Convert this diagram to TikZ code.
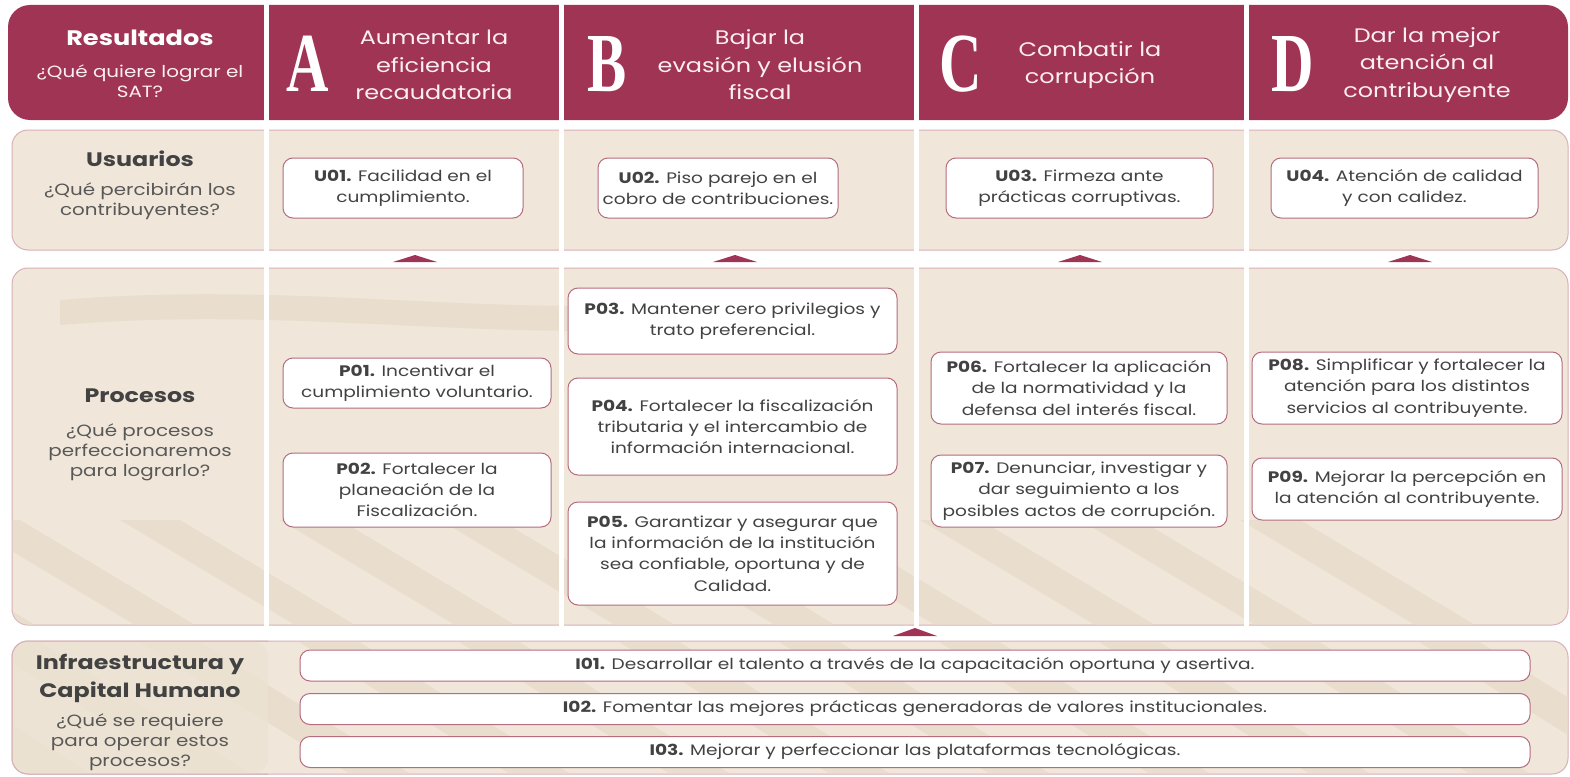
\documentclass[tikz,border=0pt]{standalone}
\usepackage{fontspec}
\setmainfont{Poppins}[FakeStretch=1.22]
\newfontfamily\letterfont{Liberation Serif}
\definecolor{guinda}{RGB}{160,52,84}
\definecolor{beige}{RGB}{240,231,218}
\definecolor{beigeD}{RGB}{236,226,211}
\definecolor{stripe}{RGB}{231,219,201}
\definecolor{rowline}{RGB}{216,176,182}
\definecolor{boxline}{RGB}{180,108,126}
\definecolor{txt}{RGB}{66,66,66}
\definecolor{subtxt}{RGB}{88,88,88}
\definecolor{hdtxt}{RGB}{252,238,242}
\tikzset{
  rowbox/.style={draw=rowline, fill=beige, line width=1pt, rounded corners=16pt},
  sepline/.style={white, line width=5pt},
  marker/.style={fill=guinda},
  band/.style={fill=stripe, opacity=0.75},
  itembox/.style={draw=boxline, fill=white, line width=1pt, rounded corners=10pt,
    inner sep=0pt, align=center, text=txt,
    font=\fontsize{15.2}{21.3}\selectfont},
  headtext/.style={align=center, text=hdtxt, font=\fontsize{19.6}{27.5}\selectfont},
  bigletter/.style={text=white, inner sep=0pt, font=\letterfont\bfseries\fontsize{84}{84}\selectfont},
  rowtitle/.style={align=center, text=txt, font=\bfseries\fontsize{19.5}{28}\selectfont},
  rowsub/.style={align=center, text=subtxt, font=\fontsize{16.3}{20}\selectfont},
}
\begin{document}
\begin{tikzpicture}[x=1pt,y=-1pt]
\useasboundingbox (0,0) rectangle (1570,776);
\fill[white] (0,0) rectangle (1570,776);
% header band
\fill[guinda, rounded corners=22pt] (8,5) rectangle (1568,120);
% row panels
\draw[rowbox] (12,130) rectangle (1568,250);
\draw[rowbox] (12,268) rectangle (1568,625);
\draw[rowbox] (12,641) rectangle (1568,774);
% faint watermark bands
\begin{scope}
  \clip[rounded corners=15pt] (12.5,268.5) rectangle (1567.5,624.5);
  \foreach \bx in {-200,-40,120,280,440,600,760,920,1080,1240}
    \fill[band] (\bx,520) -- (\bx+60,520) -- (\bx+260,640) -- (\bx+200,640) -- cycle;
  \fill[band] (60,300) .. controls (300,280) and (500,320) .. (700,300) -- (700,325) .. controls (500,345) and (300,305) .. (60,325) -- cycle;
\end{scope}
\begin{scope}
  \clip[rounded corners=15pt] (12.5,641.5) rectangle (1567.5,773.5);
  \foreach \bx in {-200,-40,120,280,440,600,760,920,1080,1240,1400}
    \fill[band] (\bx,630) -- (\bx+60,630) -- (\bx+300,780) -- (\bx+240,780) -- cycle;
\end{scope}
\fill[beigeD, opacity=0.8, rounded corners=15pt] (12.5,641.5) -- (12.5,773.5) -- (268,773.5) -- (268,641.5) -- cycle;
\draw[rowline, line width=1pt, rounded corners=16pt] (268,641) -- (12,641) -- (12,774) -- (268,774);
% column separators
\foreach \sx in {266,561,916,1246} \draw[sepline] (\sx,0) -- (\sx,625.5);
% markers
\foreach \mx in {415,735,1080,1410}
  \fill[marker] (\mx-22,262) -- (\mx+22,262) -- (\mx,255) -- cycle;
\fill[marker] (893,636) -- (937,636) -- (915,628) -- cycle;

% header
\node[rowtitle, text=white, font=\bfseries\fontsize{21}{28}\selectfont] (hres) at (140,38) {Resultados};
\node[rowsub, text=hdtxt] (hsub) at (140,81) {¿Qué quiere lograr el\\SAT?};
\node[bigletter] (la) at (308,64) {\scalebox{0.7}[1]{A}};
\node[headtext] (ha) at (434,65) {Aumentar la\\eficiencia\\recaudatoria};
\node[bigletter] (lb) at (607,64) {\scalebox{0.7}[1]{B}};
\node[headtext] (hb) at (760,65) {Bajar la\\evasión y elusión\\fiscal};
\node[bigletter] (lc) at (961,64) {\scalebox{0.7}[1]{C}};
\node[headtext] (hc) at (1090,65) {Combatir la\\corrupción};
\node[bigletter] (ld) at (1293,64) {\scalebox{0.7}[1]{D}};
\node[headtext] (hd) at (1427,65) {Dar la mejor\\atención al\\contribuyente};

% row labels
\node[rowtitle] (tu) at (140,159) {Usuarios};
\node[rowsub] (su) at (140,201) {¿Qué percibirán los\\contribuyentes?};
\node[rowtitle] (tp) at (140,396) {Procesos};
\node[rowsub] (sp) at (140,452) {¿Qué procesos\\perfeccionaremos\\para lograrlo?};
\node[rowtitle] (ti) at (140,678) {Infraestructura y\\Capital Humano};
\node[rowsub] (si) at (140,742) {¿Qué se requiere\\para operar estos\\procesos?};

% users
\node[itembox, minimum width=240pt, minimum height=60pt] (u1) at (403,188) {\textbf{U01.} Facilidad en el\\cumplimiento.};
\node[itembox, minimum width=240pt, minimum height=60pt] (u2) at (718,188) {\textbf{U02.} Piso parejo en el\\cobro de contribuciones.};
\node[itembox, minimum width=267pt, minimum height=60pt] (u3) at (1079.5,188) {\textbf{U03.} Firmeza ante\\prácticas corruptivas.};
\node[itembox, minimum width=267pt, minimum height=60pt] (u4) at (1404.5,188) {\textbf{U04.} Atención de calidad\\y con calidez.};

% processes
\node[itembox, minimum width=268pt, minimum height=50pt] (p1) at (417,383) {\textbf{P01.} Incentivar el\\cumplimiento voluntario.};
\node[itembox, minimum width=268pt, minimum height=74pt] (p2) at (417,490) {\textbf{P02.} Fortalecer la\\planeación de la\\Fiscalización.};
\node[itembox, minimum width=329pt, minimum height=66pt] (p3) at (732.5,321) {\textbf{P03.} Mantener cero privilegios y\\trato preferencial.};
\node[itembox, minimum width=329pt, minimum height=97pt] (p4) at (732.5,426.5) {\textbf{P04.} Fortalecer la fiscalización\\tributaria y el intercambio de\\información internacional.};
\node[itembox, minimum width=329pt, minimum height=103pt] (p5) at (732.5,553.5) {\textbf{P05.} Garantizar y asegurar que\\la información de la institución\\sea confiable, oportuna y de\\Calidad.};
\node[itembox, minimum width=296pt, minimum height=72pt] (p6) at (1079,388) {\textbf{P06.} Fortalecer la aplicación\\de la normatividad y la\\defensa del interés fiscal.};
\node[itembox, minimum width=296pt, minimum height=72pt] (p7) at (1079,491) {\textbf{P07.} Denunciar, investigar y\\dar seguimiento a los\\posibles actos de corrupción.};
\node[itembox, minimum width=310pt, minimum height=72pt] (p8) at (1407,388) {\textbf{P08.} Simplificar y fortalecer la\\atención para los distintos\\servicios al contribuyente.};
\node[itembox, minimum width=310pt, minimum height=62pt] (p9) at (1407,489) {\textbf{P09.} Mejorar la percepción en\\la atención al contribuyente.};

% infrastructure
\node[itembox, minimum width=1230pt, minimum height=31pt] (i1) at (915,665.5) {\textbf{I01.} Desarrollar el talento a través de la capacitación oportuna y asertiva.};
\node[itembox, minimum width=1230pt, minimum height=31pt] (i2) at (915,709) {\textbf{I02.} Fomentar las mejores prácticas generadoras de valores institucionales.};
\node[itembox, minimum width=1230pt, minimum height=31pt] (i3) at (915,752) {\textbf{I03.} Mejorar y perfeccionar las plataformas tecnológicas.};
\end{tikzpicture}
\end{document}
